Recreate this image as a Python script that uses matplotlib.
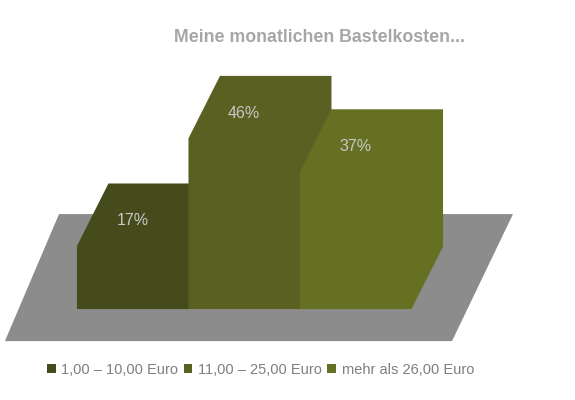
import matplotlib.pyplot as plt
from matplotlib.patches import Polygon, Patch

# Daten
kategorien = ['1,00 – 10,00 Euro', '11,00 – 25,00 Euro', 'mehr als 26,00 Euro']
anteile = [17, 46, 37]
farben = ['#454b1b', '#596021', '#667023']
titel = 'Meine monatlichen Bastelkosten...'

plt.rcParams['font.family'] = ['Liberation Sans', 'DejaVu Sans']

fig = plt.figure(figsize=(5.75, 4), dpi=100)
ax = fig.add_axes([0, 0, 1, 1])
ax.set_xlim(-0.69, 4.466)
ax.set_ylim(-24.5, 83.3)
ax.axis('off')

# Boden (Parallelogramm)
boden = Polygon([(-0.646, -8.63), (3.363, -8.63), (3.91, 25.6), (-0.161, 25.6)],
                closed=True, facecolor='#8c8c8c', edgecolor='none', zorder=1)
ax.add_patch(boden)

# Perspektivischer Versatz der Tiefe
tx, ty = 0.2825, 16.85
breite = 1.0

for i, (wert, farbe) in enumerate(zip(anteile, farben)):
    x0 = i * breite
    x1 = x0 + breite
    pts = [(x0, 0), (x0, wert), (x0 + tx, wert + ty), (x1 + tx, wert + ty),
           (x1 + tx, ty), (x1, 0)]
    ax.add_patch(Polygon(pts, closed=True, facecolor=farbe, edgecolor='none', zorder=2 + i))
    ax.text(x0 + breite / 2, wert + 6.8, f'{wert}%', ha='center', va='center',
            fontsize=11.5, color='#c8c8c8', zorder=10)

fig.text(0.555, 0.905, titel, ha='center', va='center', fontsize=12.8,
         fontweight='bold', color='#a6a6a6')

griffe = [Patch(facecolor=f, edgecolor='none') for f in farben]
leg = fig.legend(griffe, kategorien, loc='center', bbox_to_anchor=(0.453, 0.075),
                 ncol=3, frameon=False, handlelength=0.6, handleheight=0.6,
                 handletextpad=0.4, columnspacing=0.35, fontsize=10.5)
for t in leg.get_texts():
    t.set_color('#7f7f7f')

fig.savefig('out.png', dpi=100)
